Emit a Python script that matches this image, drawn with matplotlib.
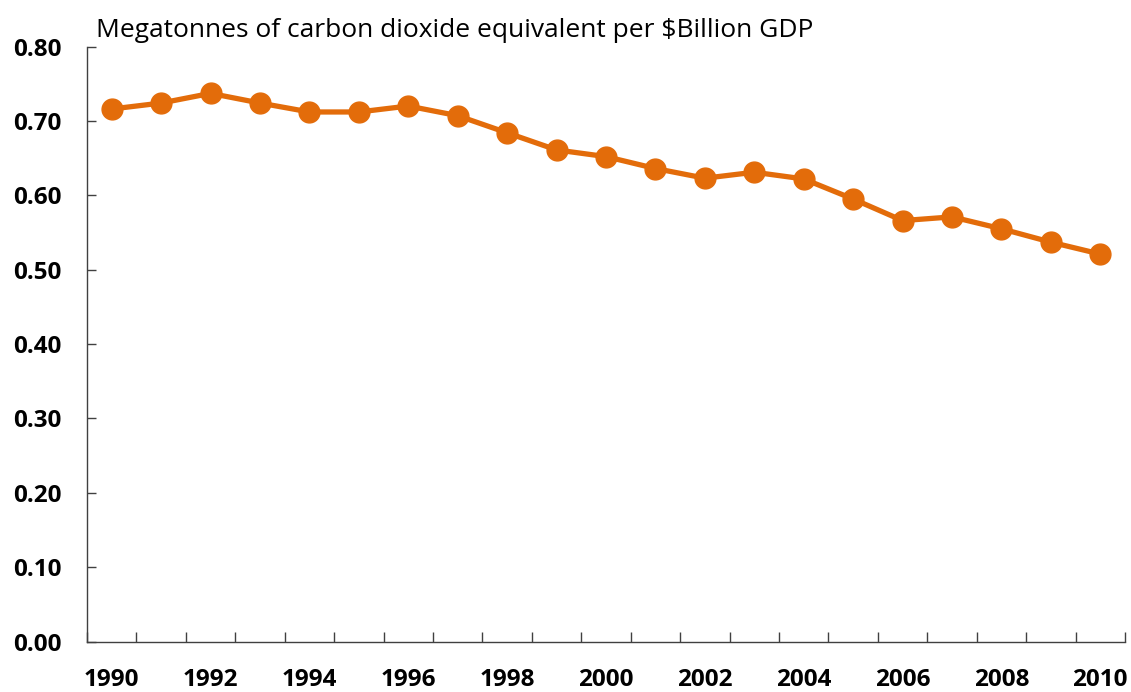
import matplotlib
matplotlib.use("Agg")
import matplotlib.pyplot as plt
import numpy as np

# values
years = list(range(1990, 2011))
intensity = [0.716, 0.724, 0.737, 0.724, 0.712, 0.712, 0.720, 0.707, 0.684, 0.661,
             0.652, 0.636, 0.623, 0.631, 0.622, 0.595, 0.566, 0.571, 0.555, 0.537, 0.521]
title = "Megatonnes of carbon dioxide equivalent per $Billion GDP"
y_ticks = [0.0, 0.1, 0.2, 0.3, 0.4, 0.5, 0.6, 0.7, 0.8]

orange = "#E36C0A"
axis_col = "#404040"

plt.rcParams['font.family'] = ['Open Sans', 'DejaVu Sans']

fig = plt.figure(figsize=(11.31, 6.92), dpi=100)
ax = fig.add_axes([0.0769, 0.0727, 0.9178, 0.8601])

x = np.arange(len(years))
ax.plot(x, intensity, color=orange, linewidth=3.8, marker='o', markersize=15,
        markerfacecolor=orange, markeredgecolor=orange, solid_joinstyle='round')

ax.set_xlim(-0.5, len(years) - 0.5)
ax.set_ylim(0, 0.8)

# category axis: ticks between categories, labels every other year
ax.set_xticks(np.arange(-0.5, len(years), 1.0))
ax.set_xticklabels([])
ax.set_xticks(x[::2], minor=True)
ax.set_xticklabels([str(y) for y in years[::2]], minor=True, fontsize=17.5, fontweight='bold')
ax.tick_params(axis='x', which='major', direction='in', length=7, width=1.0, color=axis_col)
ax.tick_params(axis='x', which='minor', length=0, pad=19)

ax.set_yticks(y_ticks)
ax.set_yticklabels([f"{v:.2f}" for v in y_ticks], fontsize=17.5, fontweight='bold')
ax.tick_params(axis='y', direction='in', length=6.5, width=1.0, color=axis_col, pad=18)

for s in ['top', 'right']:
    ax.spines[s].set_visible(False)
for s in ['left', 'bottom']:
    ax.spines[s].set_color(axis_col)
    ax.spines[s].set_linewidth(1.0)

fig.text(0.0849, 1 - 37 / 692, title, fontsize=19, va='baseline', ha='left')

fig.savefig("out.png", dpi=100, facecolor='white')
